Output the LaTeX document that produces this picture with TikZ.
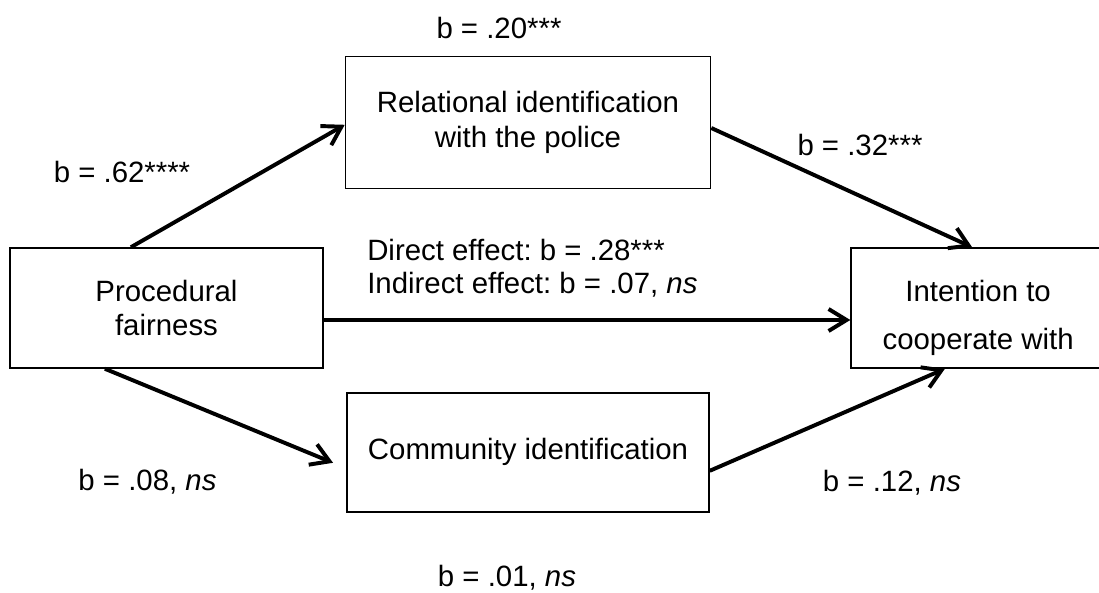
\documentclass[tikz,border=0pt]{standalone}
\usepackage{fontspec}
\setmainfont{Liberation Sans}
\frenchspacing
\usetikzlibrary{arrows.meta}
\tikzstyle{pathbox} = [draw, line width=1.1pt, align=center, inner sep=0pt, font=\fontsize{20.9pt}{24.5pt}\selectfont]
\tikzstyle{varbox} = [pathbox, rectangle]
\tikzstyle{coef} = [align=left, inner sep=0pt, font=\fontsize{20.9pt}{23.5pt}\selectfont]
\tikzstyle{patharrow} = [->, line width=2.8pt, >={Straight Barb[length=4.5mm,width=5.5mm]}]

\begin{document}
\begin{tikzpicture}
		\useasboundingbox (0,0) rectangle (27.475,14.8);
		\node (procedural) [varbox, minimum width=7.825cm, minimum height=3cm] at (4.1625,7.1) {Procedural\\fairness};
		\node (relational) [varbox, minimum width=9.125cm, minimum height=3.3cm] at (13.2,11.74) {Relational identification\\with the police};
		\node (community) [varbox, minimum width=9.05cm, minimum height=2.975cm, below of=relational, node distance=8.25cm] {Community identification};
		\node (intention) [varbox, minimum width=6.35cm, minimum height=3cm, text height=63pt, right of=procedural, node distance=20.29cm] {Intention to\\[9.5pt]cooperate with};
		% path coefficients
		\node (atob) [coef] at (12.475,14.1) {b = .20***};
		\node (atom) [coef] at (3.05,10.5) {b = .62****};
		\node (mtoc) [coef] at (21.5,11.175) {b = .32***};
		\node (direct) [coef, anchor=west] at (9.175,8.1) {Direct effect: b = .28***\\Indirect effect: b = .07, \textit{ns}};
		\node (atoc) [coef] at (3.6875,2.75) {b = .08, \textit{ns}};
		\node (ctoi) [coef] at (22.3,2.725) {b = .12, \textit{ns}};
		\node (indirect) [coef] at (12.675,0.35) {b = .01, \textit{ns}};
		% arrows
		\draw [patharrow] ([xshift=-0.89cm]procedural.north) -- ([yshift=-0.06cm]relational.west);
		\draw [patharrow] ([yshift=-0.14cm]relational.east) -- ([xshift=-0.15cm]intention.north);
		\draw [patharrow] ([yshift=-0.3cm]procedural.east) -- ([yshift=-0.3cm]intention.west);
		\draw [patharrow] ([xshift=-1.54cm]procedural.south) -- ([xshift=-0.33cm,yshift=-0.26cm]community.west);
		\draw [patharrow] ([yshift=-0.46cm]community.east) -- ([xshift=-0.83cm]intention.south);
	\end{tikzpicture}
\end{document}
